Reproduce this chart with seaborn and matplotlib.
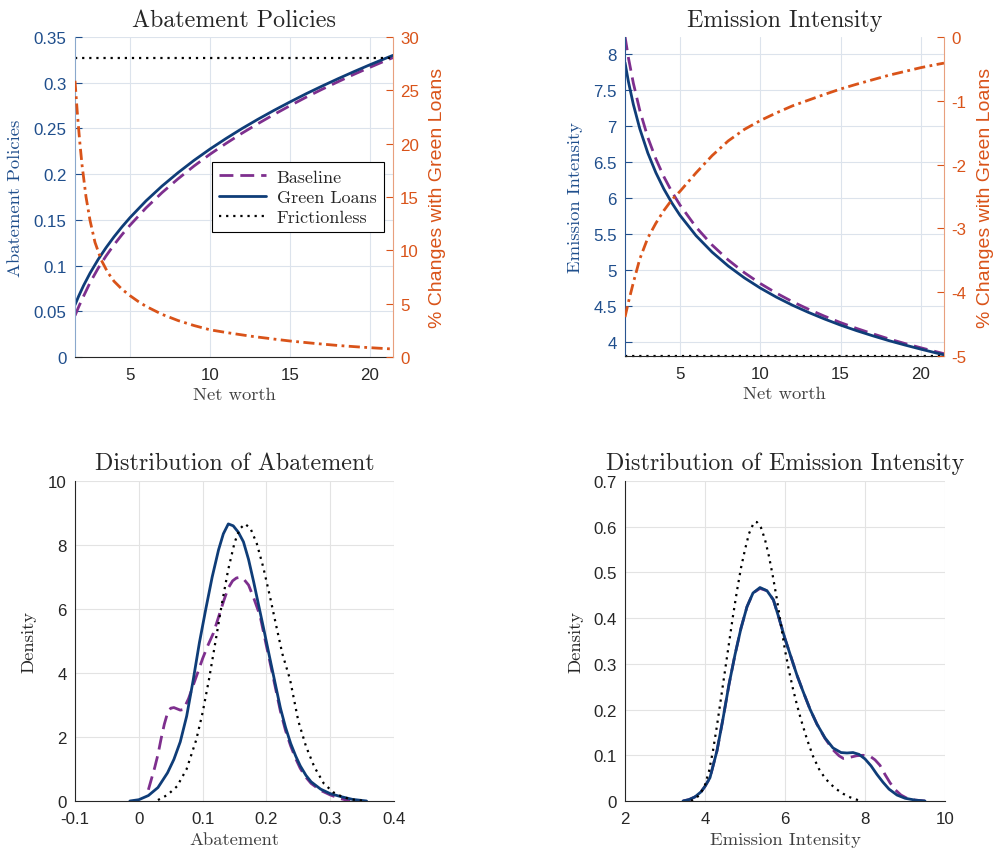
import matplotlib
matplotlib.use("Agg")
import matplotlib.pyplot as plt
from matplotlib.ticker import FuncFormatter, FixedLocator
import seaborn as sns

# colours (MATLAB-like)
NAVY = "#0F3D78"
PURPLE = "#7E2F8E"
ORANGE = "#D95319"
BLUE_TXT = "#1F4E8C"
DARK = "#262626"

# ---- Top left: abatement policies vs net worth ----
nw_a = [1.56, 1.8, 2.1, 2.5, 3.0, 3.5, 4.0, 4.5, 5.0, 6.0, 7.0, 8.0, 9.0, 10.0, 11.0, 12.0,
        13.0, 14.0, 15.0, 16.0, 17.0, 18.0, 19.0, 20.0, 21.0, 21.44]
abate_green = [0.0570, 0.0670, 0.0783, 0.0917, 0.1065, 0.1196, 0.1315, 0.1424, 0.1525, 0.1708,
               0.1870, 0.2016, 0.2151, 0.2275, 0.2390, 0.2499, 0.2601, 0.2698, 0.2790, 0.2879,
               0.2963, 0.3044, 0.3122, 0.3197, 0.3269, 0.3300]
abate_base = [0.0453, 0.0553, 0.0667, 0.0813, 0.0969, 0.1105, 0.1228, 0.1339, 0.1442, 0.1631,
              0.1798, 0.1949, 0.2089, 0.2218, 0.2336, 0.2448, 0.2553, 0.2653, 0.2749, 0.2841,
              0.2928, 0.3011, 0.3092, 0.3169, 0.3244, 0.3275]
nw_fric = [1.56, 21.44]
abate_fric = [0.327, 0.327]
nw_chg_a = [1.56, 1.7, 1.85, 2.0, 2.25, 2.5, 2.81, 3.2, 3.6, 4.0, 4.5, 5.0, 5.5, 6.0, 7.0, 8.0,
            9.0, 10.0, 11.0, 12.5, 14.0, 15.0, 16.5, 18.0, 19.5, 20.5, 21.44]
abate_chg = [25.9, 23.0, 20.3, 18.0, 15.0, 12.8, 10.75, 9.1, 7.95, 7.1, 6.35, 5.75, 5.22, 4.75,
             4.0, 3.42, 2.95, 2.55, 2.3, 1.96, 1.68, 1.5, 1.28, 1.08, 0.92, 0.83, 0.75]

# ---- Top right: emission intensity vs net worth ----
nw_e = [1.58, 1.8, 2.1, 2.5, 3.0, 3.5, 4.0, 4.5, 5.0, 6.0, 7.0, 8.0, 9.0, 10.0, 11.0, 12.0,
        13.0, 14.0, 15.0, 16.0, 17.0, 18.0, 19.0, 20.0, 21.0, 21.43]
emis_green = [7.875, 7.602, 7.293, 6.956, 6.619, 6.346, 6.118, 5.924, 5.754, 5.471, 5.242, 5.050,
              4.886, 4.743, 4.617, 4.505, 4.405, 4.313, 4.228, 4.151, 4.080, 4.013, 3.952, 3.894,
              3.839, 3.816]
emis_base = [8.237, 7.933, 7.588, 7.211, 6.834, 6.537, 6.289, 6.079, 5.897, 5.590, 5.341, 5.134,
             4.958, 4.806, 4.673, 4.554, 4.449, 4.352, 4.263, 4.182, 4.108, 4.037, 3.973, 3.913,
             3.856, 3.832]
emis_chg = [-4.39, -4.15, -3.85, -3.48, -3.15, -2.92, -2.72, -2.55, -2.42, -2.13, -1.86, -1.63,
            -1.45, -1.31, -1.19, -1.08, -0.99, -0.9, -0.815, -0.74, -0.67, -0.6, -0.54, -0.48,
            -0.43, -0.41]
nw_fric_e = [1.58, 21.43]
emis_fric = [3.80, 3.80]

# ---- Bottom left: density of abatement ----
ab_x_green = [-0.014, 0.0, 0.015, 0.03, 0.045, 0.055, 0.065, 0.075, 0.085, 0.095, 0.105, 0.115,
              0.125, 0.1325, 0.1403, 0.148, 0.156, 0.164, 0.172, 0.18, 0.188, 0.195, 0.2056, 0.214,
              0.222, 0.23, 0.238, 0.246, 0.253, 0.262, 0.27, 0.285, 0.3, 0.316, 0.335, 0.357]
ab_d_green = [0.0, 0.04, 0.17, 0.42, 0.88, 1.3, 1.85, 2.65, 3.75, 4.95, 6.0, 7.0, 7.85, 8.35, 8.66,
              8.6, 8.4, 8.1, 7.55, 6.85, 6.1, 5.45, 4.44, 3.65, 2.9, 2.3, 1.8, 1.4, 1.1, 0.8, 0.6,
              0.37, 0.23, 0.14, 0.05, 0.0]
ab_x_base = [0.015, 0.02, 0.025, 0.03, 0.035, 0.04, 0.045, 0.05, 0.055, 0.06, 0.065, 0.07, 0.078,
             0.085, 0.093, 0.1, 0.108, 0.117, 0.125, 0.133, 0.14, 0.147, 0.153, 0.1586, 0.165, 0.172,
             0.18, 0.19, 0.2, 0.206, 0.214, 0.222, 0.23, 0.238, 0.246, 0.253, 0.262, 0.27, 0.285,
             0.3, 0.315, 0.331]
ab_d_base = [0.35, 0.7, 1.05, 1.45, 1.95, 2.4, 2.75, 2.9, 2.92, 2.88, 2.84, 2.86, 3.2, 3.6, 4.05,
             4.45, 4.85, 5.25, 5.75, 6.25, 6.65, 6.88, 6.97, 6.99, 6.92, 6.75, 6.35, 5.79, 4.85, 4.3,
             3.55, 2.8, 2.2, 1.72, 1.32, 1.02, 0.74, 0.55, 0.33, 0.19, 0.08, 0.0]
ab_x_fric = [0.03, 0.045, 0.06, 0.075, 0.09, 0.1, 0.11, 0.12, 0.13, 0.14, 0.15, 0.158, 0.1665,
             0.175, 0.185, 0.195, 0.205, 0.215, 0.225, 0.237, 0.25, 0.262, 0.275, 0.29, 0.305,
             0.32, 0.335, 0.35]
ab_d_fric = [0.03, 0.19, 0.46, 1.0, 1.91, 2.76, 3.8, 4.96, 6.14, 7.22, 8.07, 8.5, 8.66, 8.52, 8.04,
             7.31, 6.44, 5.51, 4.6, 3.8, 2.5, 1.71, 1.07, 0.545, 0.27, 0.12, 0.045, 0.01]

# ---- Bottom right: density of emission intensity ----
ei_x_green = [3.45, 3.6, 3.75, 3.9, 4.0, 4.125, 4.3, 4.45, 4.6, 4.75, 4.9, 5.05, 5.2, 5.375, 5.55,
              5.71, 5.85, 6.0, 6.15, 6.3, 6.45, 6.625, 6.8, 7.0, 7.2, 7.4, 7.55, 7.7, 7.85, 8.0,
              8.15, 8.3, 8.45, 8.6, 8.8, 9.0, 9.25, 9.5]
ei_d_green = [0.0, 0.003, 0.009, 0.02, 0.032, 0.051, 0.11, 0.18, 0.255, 0.32, 0.378, 0.425, 0.455,
              0.467, 0.46, 0.44, 0.40, 0.355, 0.315, 0.275, 0.24, 0.201, 0.168, 0.138, 0.116,
              0.106, 0.105, 0.106, 0.102, 0.092, 0.077, 0.058, 0.041, 0.026, 0.013, 0.006, 0.002,
              0.0]
ei_x_base = [3.45, 3.6, 3.75, 3.9, 4.0, 4.125, 4.3, 4.45, 4.6, 4.75, 4.9, 5.05, 5.2, 5.375, 5.55,
             5.71, 5.85, 6.0, 6.15, 6.3, 6.45, 6.625, 6.8, 7.0, 7.2, 7.35, 7.46, 7.6, 7.79, 7.95,
             8.125, 8.25, 8.375, 8.5, 8.625, 8.75, 8.9, 9.05, 9.25, 9.5]
ei_d_base = [0.0, 0.003, 0.009, 0.02, 0.032, 0.051, 0.11, 0.18, 0.255, 0.32, 0.378, 0.425, 0.455,
             0.465, 0.46, 0.44, 0.40, 0.355, 0.315, 0.275, 0.24, 0.201, 0.168, 0.137, 0.112, 0.099,
             0.093, 0.095, 0.099, 0.1, 0.098, 0.09, 0.078, 0.058, 0.04, 0.025, 0.013, 0.006, 0.002,
             0.0]
ei_x_fric = [3.65, 3.8, 3.9, 4.0, 4.1, 4.2, 4.3, 4.4, 4.5, 4.6, 4.7, 4.8, 4.9, 5.0, 5.1, 5.2, 5.25,
             5.3, 5.4, 5.5, 5.6, 5.7, 5.8, 5.9, 6.0, 6.1, 6.2, 6.3, 6.4, 6.55, 6.7, 6.85, 7.0, 7.15,
             7.3, 7.45, 7.6, 7.75, 7.9]
ei_d_fric = [0.0, 0.008, 0.018, 0.035, 0.065, 0.11, 0.165, 0.225, 0.285, 0.345, 0.405, 0.46, 0.51,
             0.55, 0.585, 0.605, 0.611, 0.61, 0.598, 0.572, 0.535, 0.49, 0.44, 0.385, 0.33, 0.285,
             0.245, 0.21, 0.178, 0.135, 0.098, 0.07, 0.05, 0.036, 0.025, 0.016, 0.009, 0.004, 0.0]

sns.set_style("white")
plt.rcParams["font.family"] = ["Liberation Sans", "DejaVu Sans"]
SERIF = ["cmr10", "DejaVu Serif"]
TICK_FS = 12.2
LABEL_FS = 13.4
TITLE_FS = 17.3

DASH = (0, (5, 2.5))
DOT = (0, (1, 2.2))
DASHDOT = (0, (4, 1.6, 1, 1.6))

fmt = FuncFormatter(lambda v, _: f"{v:g}")

fig = plt.figure(figsize=(9.96, 8.53), dpi=100)


def base_style(ax, grid_color):
    ax.grid(True, color=grid_color, lw=0.8)
    ax.set_axisbelow(True)
    ax.spines["top"].set_visible(False)
    ax.spines["right"].set_visible(False)
    for s in ("left", "bottom"):
        ax.spines[s].set_color(DARK)
        ax.spines[s].set_linewidth(0.8)
    ax.tick_params(direction="in", length=5, width=0.8, labelsize=TICK_FS,
                   colors=DARK)
    ax.tick_params(axis="x", pad=7)
    ax.tick_params(axis="y", pad=6)
    ax.xaxis.set_major_formatter(fmt)
    ax.yaxis.set_major_formatter(fmt)


def three_lines(ax, xb, yb, xg, yg, xf, yf, fric_clip=True):
    sns.lineplot(x=xb, y=yb, ax=ax, color=PURPLE, lw=2, linestyle=DASH,
                 estimator=None, sort=False, label="Baseline")
    sns.lineplot(x=xg, y=yg, ax=ax, color=NAVY, lw=2, estimator=None,
                 sort=False, label="Green Loans")
    sns.lineplot(x=xf, y=yf, ax=ax, color="black", lw=1.6, linestyle=DOT,
                 estimator=None, sort=False, label="Frictionless",
                 clip_on=fric_clip)
    if ax.get_legend() is not None:
        ax.get_legend().remove()


def twin_style(ax, ax2, left_spine_color):
    ax.spines["left"].set_color(left_spine_color)
    ax.tick_params(axis="y", colors=BLUE_TXT)
    for s in ("top", "left", "bottom"):
        ax2.spines[s].set_visible(False)
    ax2.spines["right"].set_color("#E8A07E")
    ax2.spines["right"].set_linewidth(0.8)
    ax2.tick_params(axis="y", direction="in", length=5, width=0.8, pad=5,
                    labelsize=TICK_FS, colors=ORANGE)
    ax2.yaxis.set_major_formatter(fmt)
    ax2.set_ylabel("% Changes with Green Loans", color=ORANGE, fontsize=LABEL_FS + 0.6)


# ---------- Top left ----------
ax = fig.add_axes([0.0753, 0.5803, 0.3193, 0.3751])
base_style(ax, "#DCE3EC")
three_lines(ax, nw_a, abate_base, nw_a, abate_green, nw_fric, abate_fric)
ax.set_xlim(1.56, 21.44)
ax.set_ylim(0, 0.35)
ax.xaxis.set_major_locator(FixedLocator([5, 10, 15, 20]))
ax.yaxis.set_major_locator(FixedLocator([0, 0.05, 0.1, 0.15, 0.2, 0.25, 0.3, 0.35]))
ax.set_title("Abatement Policies", family=SERIF, fontsize=TITLE_FS, y=1.035, pad=0)
ax.set_xlabel("Net worth", family=SERIF, fontsize=LABEL_FS, color="#404040")
ax.set_ylabel("Abatement Policies", family=SERIF, fontsize=LABEL_FS, color=BLUE_TXT)
ax.xaxis.set_label_coords(0.5, -0.094)
ax.yaxis.set_label_coords(-0.165, 0.5)
ax.legend(handles=ax.lines[:3], labels=["Baseline", "Green Loans", "Frictionless"],
          loc="center", bbox_to_anchor=(0.70, 0.5), prop={"family": SERIF, "size": 13},
          frameon=True, fancybox=False, edgecolor="black", framealpha=1,
          handlelength=2.6, handletextpad=0.6, labelspacing=0.25, borderpad=0.4)
ax.get_legend().get_frame().set_linewidth(0.8)
ax2 = ax.twinx()
sns.lineplot(x=nw_chg_a, y=abate_chg, ax=ax2, color=ORANGE, lw=2, linestyle=DASHDOT,
             estimator=None, sort=False)
ax2.set_ylim(0, 30)
ax2.yaxis.set_major_locator(FixedLocator([0, 5, 10, 15, 20, 25, 30]))
twin_style(ax, ax2, "#8AA8CC")
ax2.yaxis.set_label_coords(1.113, 0.5)

# ---------- Top right ----------
ax = fig.add_axes([0.6275, 0.5815, 0.3203, 0.374])
base_style(ax, "#DCE3EC")
three_lines(ax, nw_e, emis_base, nw_e, emis_green, nw_fric_e, emis_fric, fric_clip=False)
ax.set_xlim(1.58, 21.43)
ax.set_ylim(3.80, 8.23)
ax.xaxis.set_major_locator(FixedLocator([5, 10, 15, 20]))
ax.yaxis.set_major_locator(FixedLocator([4, 4.5, 5, 5.5, 6, 6.5, 7, 7.5, 8]))
ax.set_title("Emission Intensity", family=SERIF, fontsize=TITLE_FS, y=1.035, pad=0)
ax.set_xlabel("Net worth", family=SERIF, fontsize=LABEL_FS, color="#404040")
ax.set_ylabel("Emission Intensity", family=SERIF, fontsize=LABEL_FS, color=BLUE_TXT)
ax.xaxis.set_label_coords(0.5, -0.094)
ax.yaxis.set_label_coords(-0.132, 0.5)
ax2 = ax.twinx()
sns.lineplot(x=nw_e, y=emis_chg, ax=ax2, color=ORANGE, lw=2, linestyle=DASHDOT,
             estimator=None, sort=False)
ax2.set_ylim(-5, 0)
ax2.yaxis.set_major_locator(FixedLocator([-5, -4, -3, -2, -1, 0]))
twin_style(ax, ax2, "#2A5590")
ax2.yaxis.set_label_coords(1.103, 0.5)

# ---------- Bottom left ----------
ax = fig.add_axes([0.0753, 0.0598, 0.3203, 0.3751])
base_style(ax, "#E3E3E3")
three_lines(ax, ab_x_base, ab_d_base, ab_x_green, ab_d_green, ab_x_fric, ab_d_fric)
ax.set_xlim(-0.1, 0.4)
ax.set_ylim(0, 10)
ax.xaxis.set_major_locator(FixedLocator([-0.1, 0, 0.1, 0.2, 0.3, 0.4]))
ax.yaxis.set_major_locator(FixedLocator([0, 2, 4, 6, 8, 10]))
ax.set_title("Distribution of Abatement", family=SERIF, fontsize=TITLE_FS, y=1.0375, pad=0)
ax.set_xlabel("Abatement", family=SERIF, fontsize=LABEL_FS, color="#404040")
ax.set_ylabel("Density", family=SERIF, fontsize=LABEL_FS, color=DARK)
ax.xaxis.set_label_coords(0.5, -0.097)
ax.yaxis.set_label_coords(-0.122, 0.5)

# ---------- Bottom right ----------
ax = fig.add_axes([0.6275, 0.0598, 0.3213, 0.3751])
base_style(ax, "#E3E3E3")
three_lines(ax, ei_x_base, ei_d_base, ei_x_green, ei_d_green, ei_x_fric, ei_d_fric)
ax.set_xlim(2, 10)
ax.set_ylim(0, 0.7)
ax.xaxis.set_major_locator(FixedLocator([2, 4, 6, 8, 10]))
ax.yaxis.set_major_locator(FixedLocator([0, 0.1, 0.2, 0.3, 0.4, 0.5, 0.6, 0.7]))
ax.set_title("Distribution of Emission Intensity", family=SERIF, fontsize=TITLE_FS,
             y=1.0375, pad=0)
ax.set_xlabel("Emission Intensity", family=SERIF, fontsize=LABEL_FS, color="#404040")
ax.set_ylabel("Density", family=SERIF, fontsize=LABEL_FS, color=DARK)
ax.xaxis.set_label_coords(0.5, -0.097)
ax.yaxis.set_label_coords(-0.131, 0.5)

fig.savefig("out.png", dpi=100)
